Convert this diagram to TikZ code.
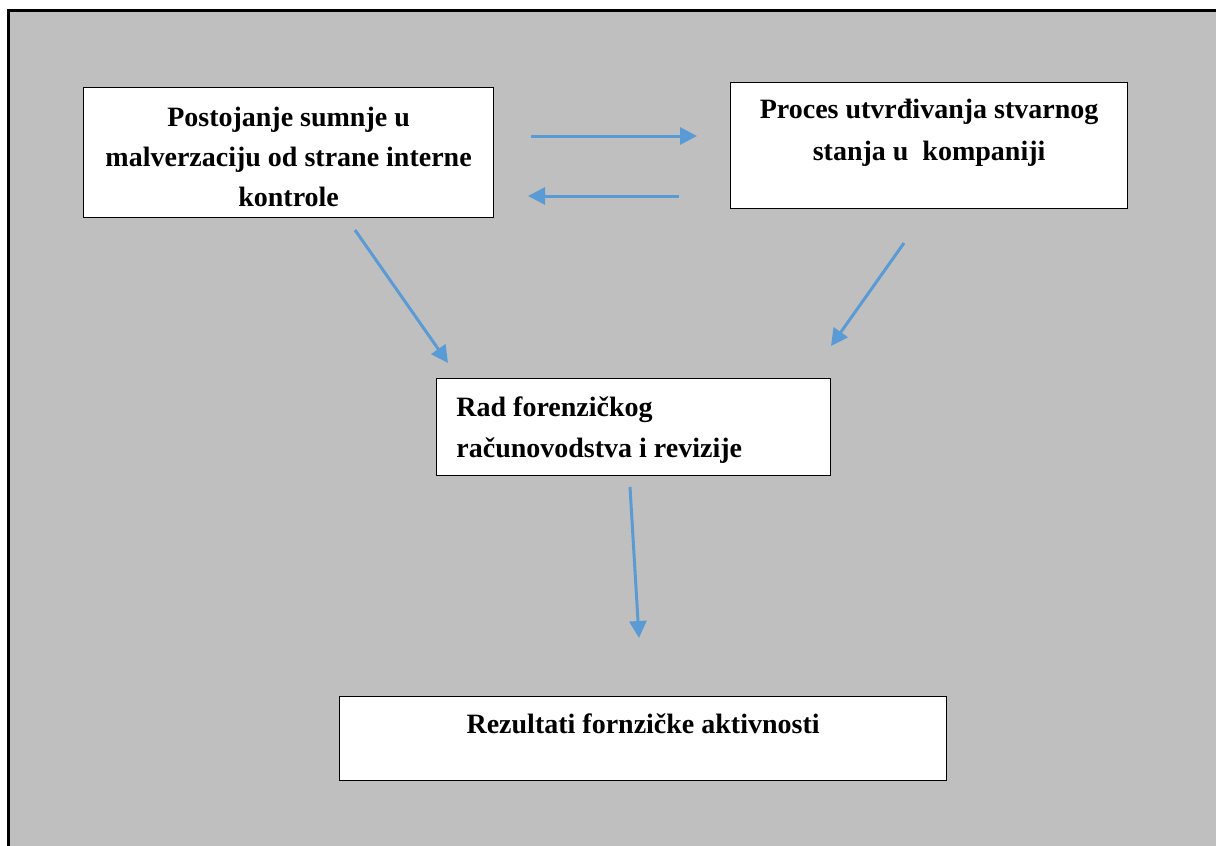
\documentclass[tikz,border=0pt]{standalone}
\usepackage{fontspec}
\setmainfont{Liberation Serif}
\usetikzlibrary{arrows.meta,positioning}
\definecolor{bggray}{HTML}{BFBFBF}
\definecolor{arrowblue}{HTML}{5B9BD5}

\begin{document}
\begin{tikzpicture}[x=0.5pt,y=-0.5pt,
  box/.style={draw=black,fill=white,line width=0.6pt,anchor=north west,inner sep=0pt},
  txt/.style={font=\fontsize{14}{20}\selectfont\bfseries,inner sep=0pt,align=center},
  flow/.style={arrowblue,line width=1.5pt,-{Triangle[length=8.5pt,width=8.5pt]}}]

% Background and frame
\useasboundingbox (0,0) rectangle (1216,846);
\fill[bggray] (8,10) rectangle (1216,846);
\draw[line width=1.5pt] (8,846) -- (8,10) -- (1216,10);

% Boxes
\node[box,minimum width=205pt,minimum height=65pt] (sumnja) at (83,87) {};
\node[box,minimum width=198.5pt,minimum height=63pt] (proces) at (730,82) {};
\node[box,minimum width=197pt,minimum height=48.5pt] (rad) at (436,378) {};
\node[box,minimum width=303.5pt,minimum height=42pt] (rezultati) at (339,696) {};

% Texts in the boxes
\node[txt,below=10pt of sumnja.north] (sumnja-t)
  {Postojanje sumnje u\\malverzaciju od strane interne\\kontrole};
\node[txt,below=8.25pt of proces.north,
  font=\fontsize{14}{21}\selectfont\bfseries] (proces-t)
  {Proces utvrđivanja stvarnog\\stanja u~ kompaniji};
\node[txt,align=left,below right=9pt and 10pt of rad.north west,
  font=\fontsize{14}{20.5}\selectfont\bfseries] (rad-t)
  {Rad forenzičkog\\računovodstva i revizije};
\node[txt,below=8.5pt of rezultati.north] (rezultati-t)
  {Rezultati fornzičke aktivnosti};

% Arrow end points
\coordinate (S1) at (531,136);
\coordinate (E1) at (697,136);
\coordinate (S2) at (679,196);
\coordinate (E2) at (528,196);
\coordinate (S3) at (355,230);
\coordinate (E3) at (448,363);
\coordinate (S4) at (904,243);
\coordinate (E4) at (831,346);
\coordinate (S5) at (630,487);
\coordinate (E5) at (639,638);

% Arrows
\draw[flow] (S1) -- (E1);
\draw[flow] (S2) -- (E2);
\draw[flow] (S3) -- (E3);
\draw[flow] (S4) -- (E4);
\draw[flow] (S5) -- (E5);
\end{tikzpicture}
\end{document}
